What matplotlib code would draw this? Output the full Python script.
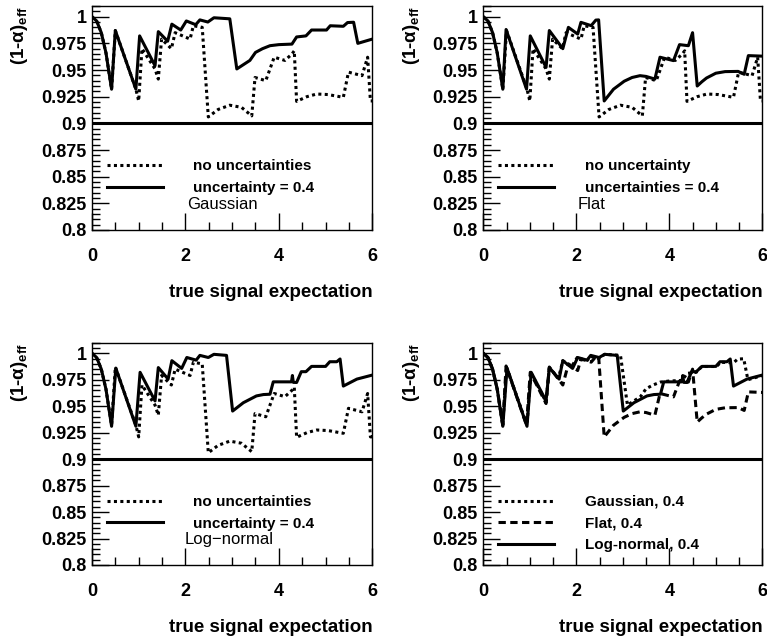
import matplotlib
matplotlib.use('Agg')
import matplotlib.pyplot as plt
from matplotlib.ticker import FixedLocator, MultipleLocator

plt.rcParams['font.family'] = ['Liberation Sans', 'DejaVu Sans']
plt.rcParams['font.weight'] = 'bold'
plt.rcParams['axes.labelweight'] = 'bold'
plt.rcParams['mathtext.fontset'] = 'custom'
plt.rcParams['mathtext.rm'] = 'Liberation Sans:bold'
plt.rcParams['mathtext.bf'] = 'Liberation Sans:bold'
plt.rcParams['mathtext.it'] = 'Liberation Sans:bold:italic'

# no uncertainties (same curve in the first three panels)
x_none = [0, 0.1, 0.2, 0.3, 0.42, 0.50, 0.94, 1.00, 1.07, 1.35, 1.42, 1.49, 1.70, 1.78,
          2.10, 2.17, 2.36, 2.49, 2.70, 2.95, 3.20, 3.42, 3.49, 3.72, 3.90, 4.13, 4.28,
          4.33, 4.38, 4.60, 4.81, 5.05, 5.38, 5.49, 5.78, 5.90, 5.96, 6.0]
y_none = [1.0, 0.996, 0.985, 0.966, 0.932, 0.987, 0.932, 0.921, 0.970, 0.951, 0.9415, 0.979,
          0.970, 0.985, 0.979, 0.9915, 0.990, 0.906, 0.913, 0.917, 0.915, 0.907, 0.943, 0.940,
          0.962, 0.959, 0.965, 0.968, 0.9206, 0.925, 0.9275, 0.927, 0.9244, 0.948, 0.9447,
          0.962, 0.921, 0.921]

# gaussian, uncertainty 0.4
x_gauss = [0, 0.1, 0.2, 0.3, 0.42, 0.50, 0.94, 1.02, 1.35, 1.42, 1.62, 1.71, 1.90, 2.02,
           2.22, 2.31, 2.48, 2.61, 2.95, 3.10, 3.38, 3.50, 3.65, 3.81, 4.00, 4.28, 4.38,
           4.58, 4.70, 5.02, 5.10, 5.38, 5.47, 5.60, 5.69, 6.0]
y_gauss = [1.0, 0.996, 0.985, 0.966, 0.932, 0.987, 0.932, 0.982, 0.954, 0.986, 0.977, 0.993,
           0.9875, 0.996, 0.9925, 0.997, 0.995, 0.999, 0.998, 0.951, 0.959, 0.9665, 0.970,
           0.9728, 0.9738, 0.9743, 0.981, 0.982, 0.9875, 0.9875, 0.9915, 0.991, 0.9945,
           0.9948, 0.975, 0.979]

# flat, uncertainty 0.4
x_flat = [0, 0.1, 0.2, 0.3, 0.42, 0.49, 0.93, 1.01, 1.35, 1.42, 1.71, 1.83, 2.03, 2.10,
          2.32, 2.42, 2.48, 2.60, 2.80, 3.03, 3.20, 3.37, 3.50, 3.69, 3.80, 4.09, 4.22,
          4.41, 4.50, 4.60, 4.70, 4.80, 5.00, 5.20, 5.48, 5.61, 5.70, 6.0]
y_flat = [1.0, 0.996, 0.985, 0.966, 0.932, 0.988, 0.932, 0.982, 0.9525, 0.987, 0.970, 0.990,
          0.9837, 0.9947, 0.9916, 0.9968, 0.997, 0.921, 0.932, 0.9395, 0.943, 0.9447, 0.944,
          0.9415, 0.962, 0.9588, 0.9738, 0.9728, 0.985, 0.935, 0.939, 0.9425, 0.947, 0.9485,
          0.9487, 0.946, 0.9635, 0.963]

# log-normal, uncertainty 0.4
x_logn = [0, 0.1, 0.2, 0.3, 0.42, 0.51, 0.94, 1.03, 1.35, 1.42, 1.63, 1.71, 1.92, 2.03,
          2.23, 2.31, 2.49, 2.61, 2.88, 3.01, 3.24, 3.52, 3.67, 3.81, 3.88, 4.27, 4.29,
          4.31, 4.38, 4.48, 4.58, 4.70, 5.00, 5.09, 5.24, 5.31, 5.38, 5.67, 6.0]
y_logn = [1.0, 0.996, 0.985, 0.966, 0.931, 0.986, 0.931, 0.982, 0.955, 0.9865, 0.9756, 0.993,
          0.9857, 0.996, 0.9935, 0.998, 0.996, 0.999, 0.998, 0.9454, 0.9533, 0.9597, 0.961,
          0.9613, 0.973, 0.973, 0.979, 0.9725, 0.9724, 0.9826, 0.9826, 0.9876, 0.9876,
          0.992, 0.992, 0.9946, 0.969, 0.9756, 0.9794]

cl_level = 0.9
x_ticks = [0, 2, 4, 6]
x_labels = ['0', '2', '4', '6']
y_ticks = [0.8, 0.825, 0.85, 0.875, 0.9, 0.925, 0.95, 0.975, 1.0]
y_labels = ['0.8', '0.825', '0.85', '0.875', '0.9', '0.925', '0.95', '0.975', '1']

LW = 2.2
DOT = (0, (1, 1.1))
DASH = (0, (2.4, 1.45))


def style_axes(ax):
    ax.set_xlim(0, 6)
    ax.set_ylim(0.8, 1.01)
    ax.axhline(cl_level, color='k', lw=LW)
    ax.xaxis.set_major_locator(FixedLocator(x_ticks))
    ax.set_xticklabels(x_labels)
    ax.xaxis.set_minor_locator(MultipleLocator(0.5))
    ax.yaxis.set_major_locator(FixedLocator(y_ticks))
    ax.set_yticklabels(y_labels)
    ax.yaxis.set_minor_locator(MultipleLocator(0.005))
    ax.tick_params(which='both', direction='in', top=False, right=False, width=1)
    ax.tick_params(axis='x', which='major', length=12, pad=13, labelsize=13)
    ax.tick_params(axis='x', which='minor', length=5.5)
    ax.tick_params(axis='y', which='major', length=12, pad=4, labelsize=13)
    ax.tick_params(axis='y', which='minor', length=5.5)
    for sp in ax.spines.values():
        sp.set_linewidth(1)
    ax.set_xlabel('true signal expectation', loc='right', fontsize=13.5,
                  fontweight='bold', labelpad=14)
    ax.text(-0.259, 1.0, '(1-α)$_{\\mathrm{eff}}$', rotation=90, ha='center', va='top',
            fontsize=13.5, transform=ax.transAxes)


def add_legend(ax, handles, labels):
    ax.legend(handles, labels, loc='upper left', bbox_to_anchor=(0.053, 0.315),
              frameon=False, fontsize=11, handlelength=3.66, handletextpad=2.0,
              labelspacing=0.5, borderpad=0, borderaxespad=0)


fig = plt.figure(figsize=(7.67, 6.41), dpi=100)
ax1 = fig.add_axes([0.1199, 0.6412, 0.3655, 0.3494])
ax2 = fig.add_axes([0.6301, 0.6412, 0.3638, 0.3494])
ax3 = fig.add_axes([0.1199, 0.1186, 0.3655, 0.3468])
ax4 = fig.add_axes([0.6301, 0.1186, 0.3638, 0.3468])

# Gaussian
h1, = ax1.plot(x_none, y_none, color='k', lw=LW, ls=DOT)
h2, = ax1.plot(x_gauss, y_gauss, color='k', lw=LW)
style_axes(ax1)
add_legend(ax1, [h1, h2], ['no uncertainties', 'uncertainty = 0.4'])
ax1.text(0.339, 0.116, 'Gaussian', fontsize=12, fontweight='normal', va='center',
         transform=ax1.transAxes)

# Flat
h1, = ax2.plot(x_none, y_none, color='k', lw=LW, ls=DOT)
h2, = ax2.plot(x_flat, y_flat, color='k', lw=LW)
style_axes(ax2)
add_legend(ax2, [h1, h2], ['no uncertainty', 'uncertainties = 0.4'])
ax2.text(0.337, 0.112, 'Flat', fontsize=12, fontweight='normal', va='center',
         transform=ax2.transAxes)

# Log-normal
h1, = ax3.plot(x_none, y_none, color='k', lw=LW, ls=DOT)
h2, = ax3.plot(x_logn, y_logn, color='k', lw=LW)
style_axes(ax3)
add_legend(ax3, [h1, h2], ['no uncertainties', 'uncertainty = 0.4'])
ax3.text(0.331, 0.1125, 'Log\u2212normal', fontsize=12, fontweight='normal', va='center',
         transform=ax3.transAxes)

# comparison
h1, = ax4.plot(x_gauss, y_gauss, color='k', lw=LW, ls=DOT)
h2, = ax4.plot(x_flat, y_flat, color='k', lw=LW, ls=DASH)
h3, = ax4.plot(x_logn, y_logn, color='k', lw=LW)
style_axes(ax4)
add_legend(ax4, [h1, h2, h3], ['Gaussian, 0.4', 'Flat, 0.4', 'Log-normal, 0.4'])

fig.savefig('out.png', dpi=100)
